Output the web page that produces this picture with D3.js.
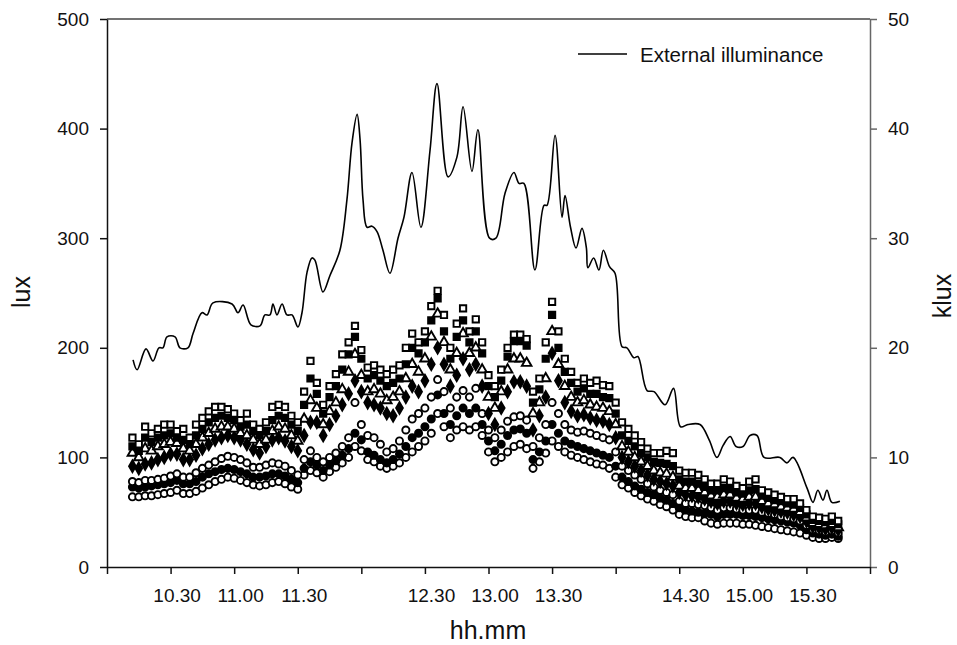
<!DOCTYPE html>
<html>
<head>
<meta charset="utf-8">
<script src="https://cdn.jsdelivr.net/npm/d3@7"></script>
<style>
  body { margin: 0; background: #fff; }
  svg { font-family: "Liberation Sans", Arial, sans-serif; }
</style>
</head>
<body>
<script>
// sampling times, minutes after 10:00
const sampleMin = [12,15,18,21,24,27,30,33,36,39,
  42,45,48,51,54,57,60,63,66,69,
  72,75,78,81,84,87,90,93,96,99,
  102,105,108,111,114,117,120,123,126,129,
  132,135,138,141,144,147,150,153,156,159,
  162,165,168,171,174,177,180,183,186,189,
  192,195,198,201,204,207,210,213,216,219,
  222,225,228,231,234,237,240,243,246,249,
  252,255,258,261,264,267,270,273,276,279,
  282,285,288,291,294,297,300,303,306,309,
  312,315,318,321,324,327,330,333,336,339,
  342,345];

// indoor sensors (lux)
const s1 = [118,112,128,122,126,130,130,124,126,118,
  130,136,142,146,146,144,140,134,140,130,
  126,132,146,148,146,138,132,160,188,168,
  148,165,176,194,205,220,198,182,184,180,
  176,180,184,200,213,205,215,238,252,230,
  200,222,236,215,226,205,175,165,180,200,
  212,212,208,160,172,205,242,215,190,178,
  168,172,168,170,166,165,150,132,126,120,
  114,108,104,104,106,104,88,86,86,84,
  80,76,76,80,78,74,72,78,80,70,
  68,66,64,62,62,58,52,46,45,44,
  46,42];
const s2 = [110,106,118,114,118,120,122,118,116,112,
  120,126,132,136,138,136,134,128,130,124,
  120,124,134,138,136,130,124,148,172,158,
  140,155,165,180,194,210,190,172,175,170,
  165,168,172,185,200,195,205,225,245,215,
  190,210,225,205,215,195,165,155,170,192,
  206,206,202,150,162,190,230,200,178,168,
  160,163,158,158,155,154,140,120,115,110,
  104,100,96,95,94,92,80,78,78,76,
  73,70,70,72,71,68,67,70,71,65,
  63,61,60,58,57,54,48,43,42,41,
  42,39];
const s3 = [104,100,108,106,110,112,114,113,108,106,
  112,118,122,126,128,128,126,122,120,116,
  112,116,124,128,126,120,115,135,152,145,
  130,142,150,162,178,194,175,160,162,158,
  152,155,160,172,185,178,190,210,231,205,
  180,195,213,195,200,180,155,145,160,180,
  190,190,186,140,150,172,215,185,165,155,
  150,152,148,146,145,142,130,110,105,100,
  96,92,88,86,85,82,74,72,72,70,
  68,65,64,66,66,63,62,64,64,60,
  58,57,55,54,53,50,45,40,39,38,
  39,36];
const s4 = [92,90,94,95,98,100,103,103,98,98,
  102,108,112,116,118,120,118,116,112,107,
  104,110,116,118,115,110,106,120,132,132,
  120,130,138,148,158,170,160,150,148,145,
  140,138,145,155,165,160,170,185,200,185,
  165,175,190,180,185,165,140,130,145,160,
  169,169,165,125,138,155,195,170,150,142,
  138,139,136,134,133,130,118,100,96,92,
  88,84,80,78,76,74,68,66,65,64,
  62,60,58,60,60,58,57,58,58,55,
  53,52,51,50,48,46,42,37,36,35,
  36,34];
const s5 = [78,77,79,79,80,81,83,85,82,82,
  86,90,93,96,99,101,100,98,95,91,
  91,93,95,94,92,88,84,98,106,100,
  96,100,104,110,118,150,130,120,118,112,
  105,108,115,125,135,140,145,155,171,160,
  145,155,161,155,163,140,125,118,125,133,
  137,138,134,110,118,130,150,140,130,125,
  123,124,122,120,118,116,105,92,88,84,
  80,76,73,70,68,66,60,58,58,57,
  56,54,52,54,54,53,52,52,52,50,
  49,48,46,45,44,42,38,34,33,32,
  33,31];
const s6 = [73,72,73,74,75,76,77,79,76,76,
  78,82,85,87,89,90,89,87,85,82,
  82,83,85,85,83,80,77,90,96,93,
  88,93,97,102,108,122,116,105,102,98,
  95,98,103,110,118,122,128,135,157,140,
  130,138,145,140,145,130,115,106,112,120,
  125,126,122,98,105,115,130,122,115,112,
  110,108,106,104,102,100,92,82,78,74,
  71,68,66,63,61,58,54,52,51,50,
  49,48,46,48,48,48,47,47,46,45,
  44,43,42,41,40,38,34,31,30,29,
  30,28];
const s7 = [64,64,65,65,66,67,68,70,67,67,
  69,72,75,78,80,82,81,79,77,75,
  74,75,77,78,76,73,71,84,88,86,
  82,87,91,95,100,110,106,98,96,92,
  90,92,95,100,105,110,115,122,140,128,
  118,125,128,125,128,120,105,96,100,105,
  110,112,108,90,96,104,115,110,105,102,
  100,98,96,94,93,90,82,75,72,68,
  65,62,60,57,55,52,48,46,45,45,
  42,40,39,40,40,40,39,39,38,37,
  36,35,34,33,32,31,29,27,26,26,
  27,26];

// external illuminance (klux)
const extMin = [12.3,14.2,18.4,21.7,24.5,26.4,28.3,32.1,34.4,38.2,
  40.6,44.8,47.2,50.0,59.0,61.8,64.2,67.9,72.2,74.5,
  76.9,78.3,80.2,82.6,84.9,87.3,90.1,92.0,94.4,96.7,
  98.1,101.9,105.2,109.9,113.2,115.6,118.0,119.4,120.8,122.7,
  125.0,127.4,130.2,133.5,137.3,140.1,143.9,148.1,152.4,155.7,
  160.9,165.1,168.0,172.2,175.0,180.5,183.5,187.8,192.0,194.4,
  196.7,201.9,206.2,207.6,211.4,214.7,216.1,218.7,221.3,224.1,
  226.2,226.9,229.6,232.1,234.2,237.1,239.7,243.0,245.3,248.6,
  250.5,254.8,258.1,263.3,267.3,270.6,274.1,279.8,284.1,287.8,
  290.7,294.0,296.8,300.1,303.4,306.7,310.0,317.5,320.8,323.7,
  330.3,333.1,335.4,337.8,339.7,342.0,345.8];
const extKlux = [18.9,18.0,19.9,18.8,20.0,20.0,21.0,21.0,20.0,20.0,
  21.3,23.2,23.0,24.1,24.0,23.2,23.9,22.1,22.0,23.0,
  23.0,24.0,23.0,24.0,23.0,23.0,21.9,23.2,26.9,28.2,
  28.0,25.1,26.6,28.9,33.5,38.7,41.3,39.0,33.5,31.0,
  31.1,30.6,28.9,26.8,30.0,31.9,36.0,31.0,38.0,44.1,
  35.6,37.4,42.0,36.1,39.9,30.0,30.0,34.1,36.0,35.0,
  35.0,27.1,33.0,33.0,39.4,31.9,33.9,31.0,29.1,30.9,
  29.1,27.3,28.2,27.1,28.9,27.4,26.8,20.1,20.0,19.1,
  19.2,16.1,16.0,14.8,16.3,12.8,13.0,13.0,11.6,10.0,
  11.1,11.9,11.0,11.0,12.0,12.0,10.0,10.0,9.5,10.0,
  7.2,5.9,7.0,6.1,7.0,5.9,6.0];

const luxTicks = [0, 100, 200, 300, 400, 500];
const kluxTicks = [0, 10, 20, 30, 40, 50];
const xTickMin = [0, 30, 60, 90, 120, 150, 180, 210, 240, 270, 300, 330, 360];
const xTickLabels = ["", "10.30", "11.00", "11.30", "", "12.30", "13.00", "13.30", "", "14.30", "15.00", "15.30", ""];

const w = 957;
const h = 645;

const svg = d3.select("body").append("svg").attr("width", w).attr("height", h);

const x = d3.scaleLinear().domain([0, 360]).range([107, 870]);
const y = d3.scaleLinear().domain([0, 500]).range([567, 19]);
const y2 = d3.scaleLinear().domain([0, 50]).range([567, 19]);

// frame top line
svg.append("line")
  .attr("x1", 107).attr("x2", 870).attr("y1", 19).attr("y2", 19)
  .attr("stroke", "#444").attr("stroke-width", 1.5);

const series = [
  { v: s7, sym: d3.symbolCircle, fill: "#fff" },
  { v: s6, sym: d3.symbolCircle, fill: "#000" },
  { v: s5, sym: d3.symbolCircle, fill: "#fff" },
  { v: s4, sym: d3.symbolDiamond, fill: "#000" },
  { v: s3, sym: d3.symbolTriangle, fill: "#fff" },
  { v: s2, sym: d3.symbolSquare, fill: "#000" },
  { v: s1, sym: d3.symbolSquare, fill: "#fff" },
];

series.forEach((s) => {
  const path = d3.symbol().type(s.sym).size(40)();
  svg.append("g")
    .selectAll("path")
    .data(s.v)
    .enter()
    .append("path")
    .attr("d", path)
    .attr("transform", (d, i) => `translate(${x(sampleMin[i])},${y(d)})`)
    .attr("fill", s.fill)
    .attr("stroke", "#000")
    .attr("stroke-width", 1.9);
});

const line = d3.line()
  .x((d, i) => x(extMin[i]))
  .y((d) => y2(d))
  .curve(d3.curveCatmullRom.alpha(0.5));

svg.append("path")
  .attr("d", line(extKlux))
  .attr("fill", "none")
  .attr("stroke", "#000")
  .attr("stroke-width", 1.6);

// axes
const leftAxis = svg.append("g")
  .attr("transform", "translate(107,0)")
  .call(d3.axisLeft(y).tickValues(luxTicks).tickSize(7).tickSizeOuter(0).tickPadding(11));

const rightAxis = svg.append("g")
  .attr("transform", "translate(870,0)")
  .call(d3.axisRight(y2).tickValues(kluxTicks).tickSize(7).tickSizeOuter(0).tickPadding(11));

const bottomAxis = svg.append("g")
  .attr("transform", "translate(0,567)")
  .call(d3.axisBottom(x).tickValues(xTickMin).tickFormat((d, i) => xTickLabels[i])
    .tickSize(7).tickSizeOuter(0).tickPadding(15));

[leftAxis, rightAxis, bottomAxis].forEach((g) => {
  g.selectAll("path, line").attr("stroke-width", 1.5);
  g.selectAll("text").attr("font-size", 19).attr("fill", "#111")
    .style("font-family", '"Liberation Sans", Arial, sans-serif');
});
leftAxis.selectAll("path, line").attr("stroke", "#111");
bottomAxis.selectAll("path, line").attr("stroke", "#111");
rightAxis.selectAll("path, line").attr("stroke", "#666");
bottomAxis.selectAll("text").attr("dx", 6);

// titles
svg.append("text")
  .attr("transform", "translate(30,292) rotate(-90)")
  .attr("text-anchor", "middle")
  .attr("font-size", 25)
  .attr("fill", "#111")
  .text("lux");

svg.append("text")
  .attr("transform", "translate(951,296) rotate(-90)")
  .attr("text-anchor", "middle")
  .attr("font-size", 25)
  .attr("fill", "#111")
  .text("klux");

svg.append("text")
  .attr("x", 488).attr("y", 639)
  .attr("text-anchor", "middle")
  .attr("font-size", 25)
  .attr("fill", "#111")
  .text("hh.mm");

// legend
svg.append("line")
  .attr("x1", 578).attr("x2", 627).attr("y1", 54).attr("y2", 54)
  .attr("stroke", "#000").attr("stroke-width", 1.5);
svg.append("text")
  .attr("x", 640).attr("y", 62)
  .attr("font-size", 20.5)
  .attr("fill", "#111")
  .text("External illuminance");
</script>
</body>
</html>
